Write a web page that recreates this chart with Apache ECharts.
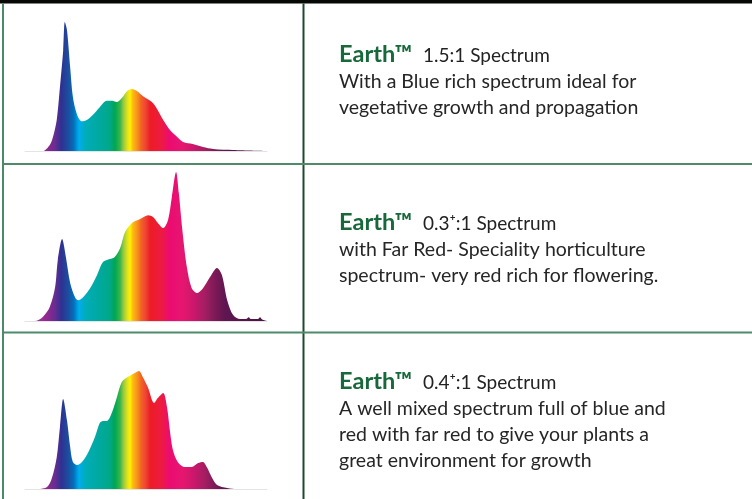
<!DOCTYPE html>
<html>
<head>
<meta charset="utf-8">
<script src="https://cdn.jsdelivr.net/npm/echarts@6/dist/echarts.min.js"></script>
<style>
html,body{margin:0;padding:0;background:#fff;}
#main{width:752px;height:499px;}
</style>
</head>
<body>
<div id="main"></div>
<script>
// Wavelength (nm) vs relative intensity (% of peak)
const spectrumEarth15 = [[380,0],[413,0],[426,4.7],[432,10.9],[439,24],[445,49.6],[451,78],[454,100],[458,94],[464,65],[469,42],[477,28],[486,23],[495,24],[506,28],[519,34],[532,39],[542,39],[551,38],[560,41],[570,46.5],[579,48],[588,46.5],[599,42.6],[616,38],[625,33],[637,24],[650,16],[663,10.9],[674,7],[692,5.4],[711,3.1],[730,1.6],[767,0.8],[830,0]];
const spectrumEarth03 = [[380,0],[398,0],[413,2.7],[426,9.4],[436,22.8],[441,41],[449,55],[456,43],[464,25.5],[473,16],[479,14],[488,16],[501,22],[514,30.9],[525,39.6],[538,41.6],[547,43],[557,49],[566,59.7],[579,65.8],[594,68.5],[609,71],[618,69.8],[627,65.8],[637,62.4],[646,67.8],[653,83],[661,100],[666,86],[672,63.1],[681,36],[690,22],[700,18.8],[711,22],[724,29.5],[737,35.6],[746,31],[756,14],[767,4],[780,1.3],[791,1.3],[796,2.5],[800,1.3],[813,1.3],[817,2.5],[821,1],[830,0]];
const spectrumEarth04 = [[380,0],[404,0],[421,1.7],[430,9.3],[439,27],[445,52.5],[451,76.3],[458,58.5],[464,35.6],[469,22.9],[477,20.3],[486,22.9],[497,30.5],[510,44],[519,55.9],[525,57.6],[532,57.6],[542,65.3],[551,78],[560,90.7],[571,94.9],[584,98.3],[592,100],[599,94.9],[609,85.6],[620,72.9],[627,77.1],[637,81.4],[644,69.5],[650,47.5],[655,33],[664,22.9],[677,18.6],[690,18.6],[702,22],[711,22.9],[718,18.6],[728,9.3],[737,3.4],[756,0.8],[774,0],[830,0]];

const productNames = ['Earth™','Earth™','Earth™'];
const ratioLabels = ['1.5:1 Spectrum','0.3⁺:1 Spectrum','0.4⁺:1 Spectrum'];
const descriptions = [
  ['With a Blue rich spectrum ideal for','vegetative growth and propagation'],
  ['with Far Red- Speciality horticulture','spectrum- very red rich for flowering.'],
  ['A well mixed spectrum full of blue and','red with far red to give your plants a','great environment for growth']
];

const rainbow = {
  type:'linear', x:0, y:0, x2:1, y2:0,
  colorStops:[
    {offset:0.00,color:'#b06aa8'},
    {offset:0.05,color:'#9b3a97'},
    {offset:0.09,color:'#92278f'},
    {offset:0.125,color:'#662d91'},
    {offset:0.15,color:'#2e3192'},
    {offset:0.18,color:'#1b4fa0'},
    {offset:0.202,color:'#0072bc'},
    {offset:0.223,color:'#00aeef'},
    {offset:0.25,color:'#00acb8'},
    {offset:0.31,color:'#00a99d'},
    {offset:0.35,color:'#00a88a'},
    {offset:0.372,color:'#00a651'},
    {offset:0.393,color:'#39b54a'},
    {offset:0.405,color:'#8dc63f'},
    {offset:0.421,color:'#d7df23'},
    {offset:0.434,color:'#fff200'},
    {offset:0.446,color:'#fdb913'},
    {offset:0.463,color:'#f7941d'},
    {offset:0.479,color:'#f26522'},
    {offset:0.50,color:'#ef4136'},
    {offset:0.517,color:'#ed1c24'},
    {offset:0.558,color:'#ed1c3c'},
    {offset:0.60,color:'#ec0b72'},
    {offset:0.653,color:'#e5176f'},
    {offset:0.702,color:'#c8176b'},
    {offset:0.744,color:'#a31e62'},
    {offset:0.785,color:'#7d1a57'},
    {offset:0.826,color:'#5f1650'},
    {offset:1.00,color:'#4a1442'}
  ]
};

const grids = [
  {left:25, width:242, top:22, height:129},
  {left:25, width:242, top:172, height:149},
  {left:25, width:242, top:371, height:118}
];
const spectra = [spectrumEarth15, spectrumEarth03, spectrumEarth04];

const xAxes = grids.map((g,i)=>({
  type:'value', gridIndex:i, min:380, max:830,
  axisLine:{show:true, lineStyle:{color:'#e4e4e4', width:1}},
  axisTick:{show:false}, axisLabel:{show:false}, splitLine:{show:false}
}));
const yAxes = grids.map((g,i)=>({
  type:'value', gridIndex:i, min:0, max:100, show:false, splitLine:{show:false}
}));
const series = spectra.map((d,i)=>({
  type:'line', xAxisIndex:i, yAxisIndex:i, data:d, smooth:0.3,
  symbol:'none', lineStyle:{width:0, opacity:0},
  areaStyle:{color:rainbow, opacity:1}, silent:true
}));

// Table lines and texts
const graphics = [];
graphics.push({type:'rect', shape:{x:0,y:0,width:752,height:3.5}, style:{fill:'#050805'}, silent:true});
graphics.push({type:'line', shape:{x1:3,y1:3.5,x2:3,y2:499}, style:{stroke:'#4a8a69', lineWidth:2}, silent:true});
graphics.push({type:'line', shape:{x1:303.5,y1:3.5,x2:303.5,y2:499}, style:{stroke:'#1c4a31', lineWidth:2}, silent:true});
graphics.push({type:'line', shape:{x1:3,y1:164,x2:752,y2:164}, style:{stroke:'#4d8b6b', lineWidth:2}, silent:true});
graphics.push({type:'line', shape:{x1:3,y1:332.5,x2:752,y2:332.5}, style:{stroke:'#4d8b6b', lineWidth:2}, silent:true});

const titleBaselines = [62, 230, 389];
const lineGap = 26;
titleBaselines.forEach((b,i)=>{
  graphics.push({type:'text', x:339, y:b-8, silent:true, style:{
    text:productNames[i], fill:'#17683a', font:'bold 23.5px Lato', verticalAlign:'middle', align:'left'}});
  graphics.push({type:'text', x:423, y:b-6.3, silent:true, style:{
    text:ratioLabels[i], fill:'#222222', font:'19px Lato', verticalAlign:'middle', align:'left'}});
  descriptions[i].forEach((t,j)=>{
    graphics.push({type:'text', x:339, y:b+lineGap*(j+1)-6.5, silent:true, style:{
      text:t, fill:'#262626', font:'19.5px Lato', verticalAlign:'middle', align:'left'}});
  });
});

const chart = echarts.init(document.getElementById('main'), null, {renderer:'canvas'});
chart.setOption({
  animation:false,
  backgroundColor:'#ffffff',
  grid:grids,
  xAxis:xAxes,
  yAxis:yAxes,
  series:series,
  graphic:graphics
});
</script>
</body>
</html>
